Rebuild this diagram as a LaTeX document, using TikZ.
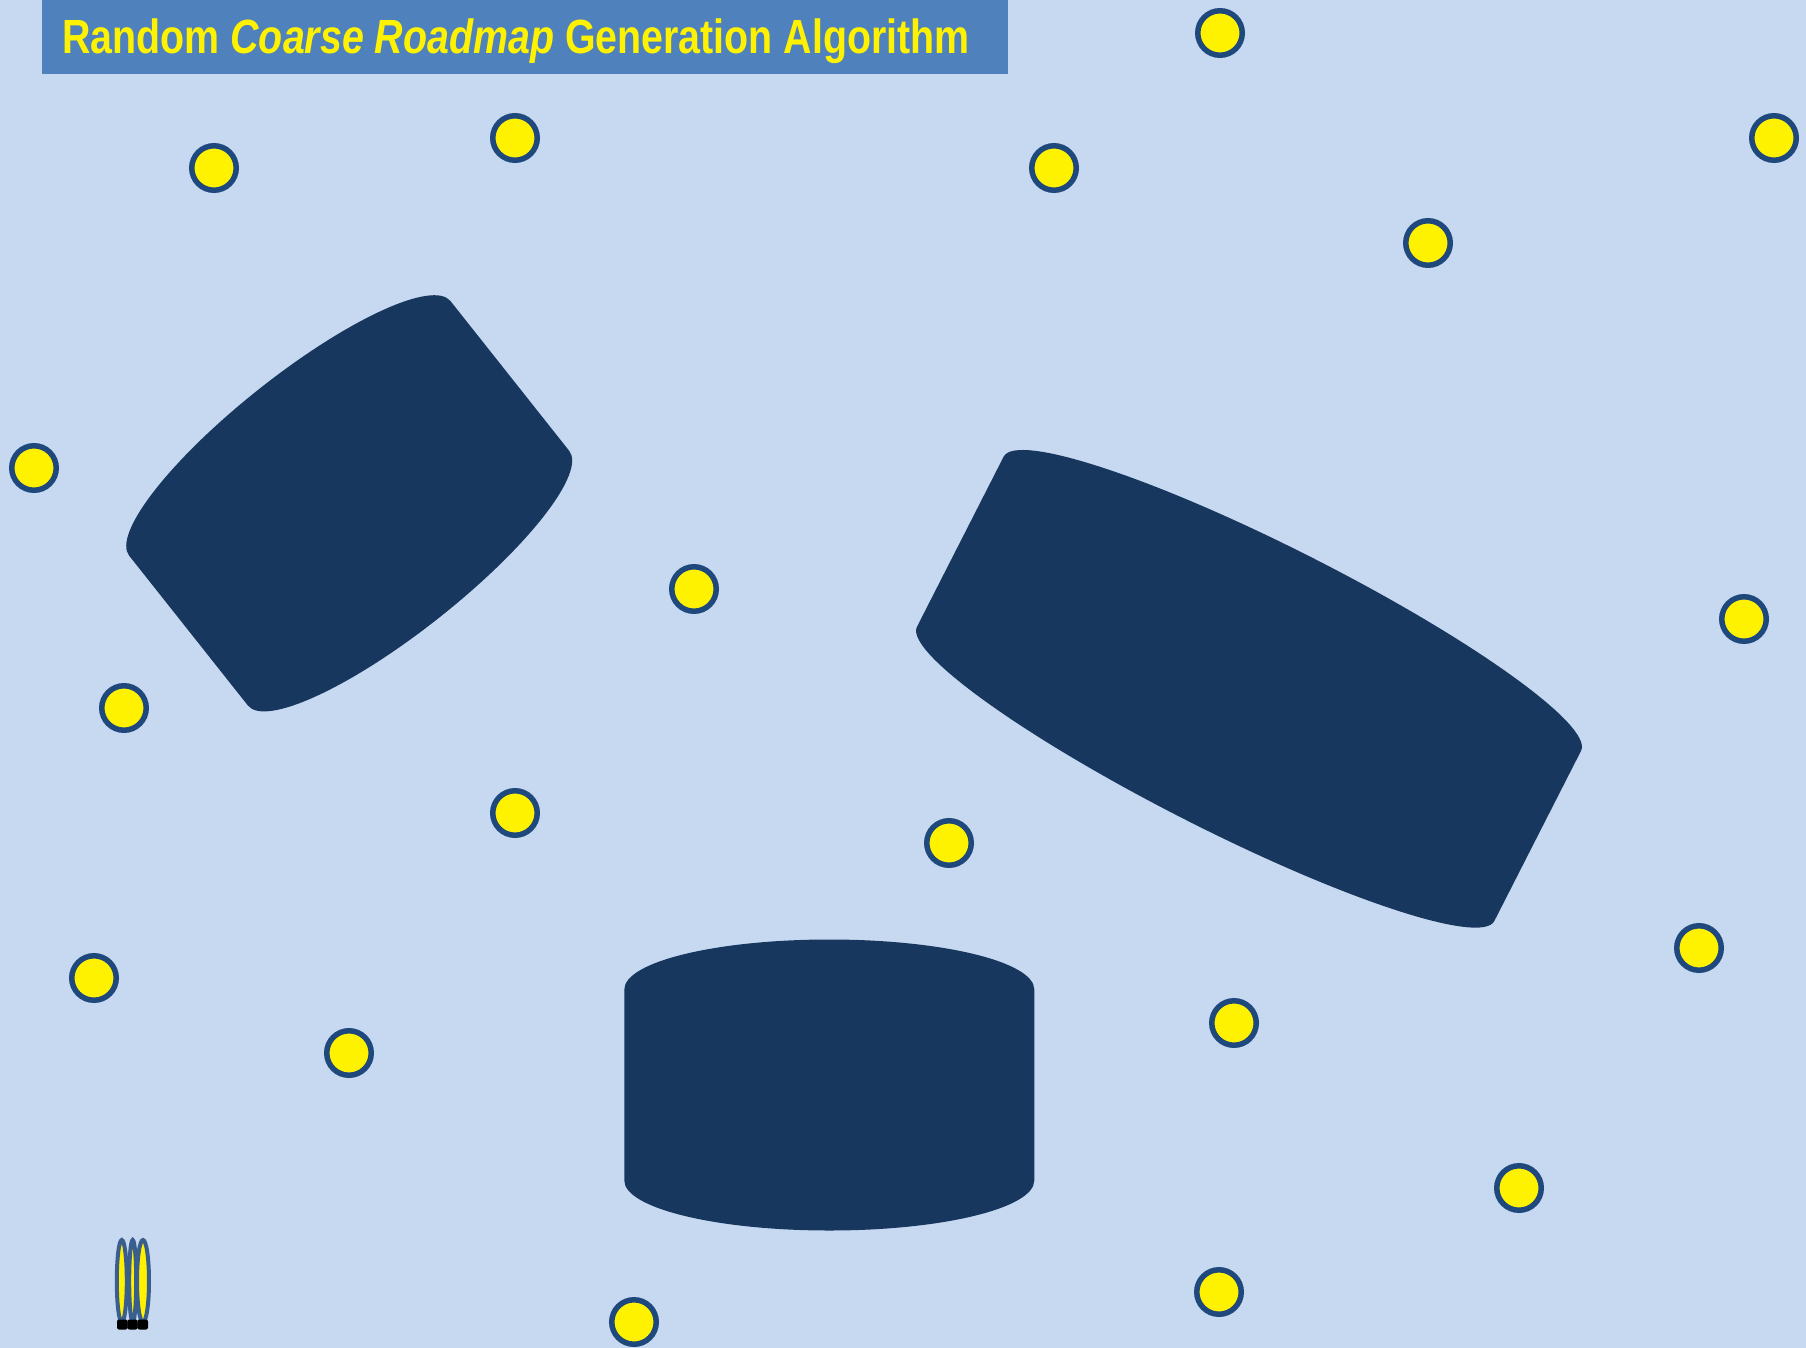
\documentclass[tikz,border=0pt]{standalone}
\usepackage{fontspec}
\newfontfamily\titlefont[FakeStretch=0.82]{Liberation Sans}
\definecolor{bgblue}{HTML}{C6D9F1}
\definecolor{titleblue}{HTML}{4F81BD}
\definecolor{obstblue}{HTML}{17375E}
\definecolor{ringblue}{HTML}{1F497D}
\definecolor{objblue}{HTML}{3A5F8E}
\newcommand{\drumshape}[4]{%
  \begin{scope}[shift={(#1,#2)},rotate=#3]
    \fill[obstacle] (-#4,-95.5) arc[start angle=180,end angle=360,x radius=#4,y radius=50]
      -- (#4,95.5) arc[start angle=0,end angle=180,x radius=#4,y radius=50] -- cycle;
  \end{scope}}
\begin{document}
\begin{tikzpicture}[x=1pt,y=-1pt,
  waypoint/.style={circle,draw=ringblue,fill=yellow,line width=5.5pt,minimum size=44.5pt,inner sep=0pt},
  obstacle/.style={fill=obstblue},
  robotleg/.style={draw=objblue,fill=yellow,line width=4pt},
  robotfoot/.style={fill=black,rounded corners=2pt}]
\fill[bgblue] (0,0) rectangle (1806,1348);
\useasboundingbox (0,0) rectangle (1806,1348);
% title
\node[fill=titleblue,minimum width=966pt,minimum height=73.5pt,anchor=north west,inner sep=0pt] (titlebox) at (42,0) {};
\node[anchor=base west,inner sep=0pt,text=yellow,font=\titlefont\fontsize{48}{58}\selectfont\bfseries] (title) at (62,53.3) {Random \textit{Coarse Roadmap} Generation Algorithm};
% obstacles
\drumshape{349.2}{503.3}{38.4}{205}
\drumshape{1249}{688.8}{-27}{324}
\drumshape{829.3}{1085}{0}{205}
% waypoints
\node[waypoint] (c1) at (1220,33) {};
\node[waypoint] (c2) at (214,168) {};
\node[waypoint] (c3) at (515,138) {};
\node[waypoint] (c4) at (1054,168) {};
\node[waypoint] (c5) at (1774,138) {};
\node[waypoint] (c6) at (1428,243) {};
\node[waypoint] (c7) at (34,468) {};
\node[waypoint] (c8) at (694,589) {};
\node[waypoint] (c9) at (1744,619) {};
\node[waypoint] (c10) at (124,708) {};
\node[waypoint] (c11) at (515,813) {};
\node[waypoint] (c12) at (949,843) {};
\node[waypoint] (c13) at (94,978) {};
\node[waypoint] (c14) at (349,1053) {};
\node[waypoint] (c15) at (1699,948) {};
\node[waypoint] (c16) at (1234,1023) {};
\node[waypoint] (c17) at (1519,1188) {};
\node[waypoint] (c18) at (1219,1292) {};
\node[waypoint] (c19) at (634,1322) {};
% robot
\draw[robotleg] (121.8,1281) ellipse[x radius=5, y radius=41];
\draw[robotleg] (132.7,1281) ellipse[x radius=3.5, y radius=41];
\draw[robotleg] (143,1281) ellipse[x radius=6, y radius=41];
\fill[robotfoot] (117,1319.5) rectangle (127.6,1329.5);
\fill[robotfoot] (127.4,1319.5) rectangle (137.6,1329.5);
\fill[robotfoot] (137.4,1319.5) rectangle (148,1329.5);
\end{tikzpicture}
\end{document}
